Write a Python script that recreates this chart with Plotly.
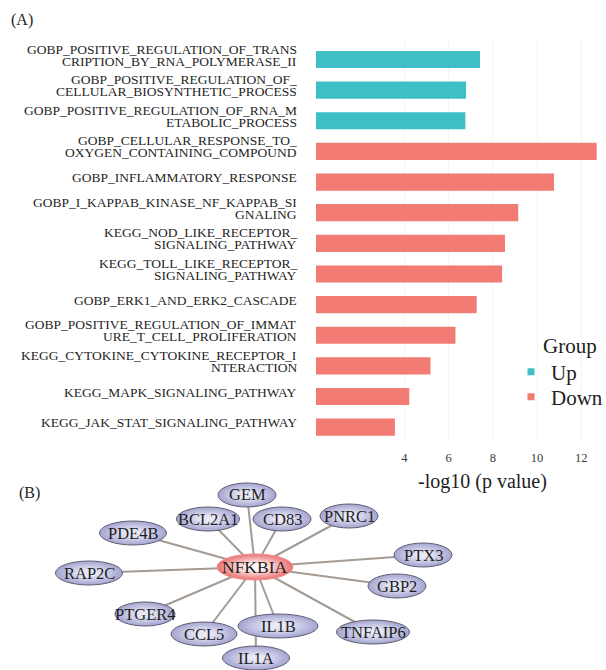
import plotly.graph_objects as go

# ---------------- data: panel A ----------------
categories = [
    "GOBP_POSITIVE_REGULATION_OF_TRANS<br>CRIPTION_BY_RNA_POLYMERASE_II",
    "GOBP_POSITIVE_REGULATION_OF_<br>CELLULAR_BIOSYNTHETIC_PROCESS",
    "GOBP_POSITIVE_REGULATION_OF_RNA_M<br>ETABOLIC_PROCESS",
    "GOBP_CELLULAR_RESPONSE_TO_<br>OXYGEN_CONTAINING_COMPOUND",
    "GOBP_INFLAMMATORY_RESPONSE",
    "GOBP_I_KAPPAB_KINASE_NF_KAPPAB_SI<br>GNALING",
    "KEGG_NOD_LIKE_RECEPTOR_<br>SIGNALING_PATHWAY",
    "KEGG_TOLL_LIKE_RECEPTOR_<br>SIGNALING_PATHWAY",
    "GOBP_ERK1_AND_ERK2_CASCADE",
    "GOBP_POSITIVE_REGULATION_OF_IMMAT<br>URE_T_CELL_PROLIFERATION",
    "KEGG_CYTOKINE_CYTOKINE_RECEPTOR_I<br>NTERACTION",
    "KEGG_MAPK_SIGNALING_PATHWAY",
    "KEGG_JAK_STAT_SIGNALING_PATHWAY",
]
groups = ["Up", "Up", "Up", "Down", "Down", "Down", "Down",
          "Down", "Down", "Down", "Down", "Down", "Down"]
neg_log10_p = [7.42, 6.79, 6.76, 12.70, 10.77, 9.15, 8.55,
               8.42, 7.27, 6.31, 5.18, 4.22, 3.57]
x_ticks = [4, 6, 8, 10, 12]
group_order = ["Up", "Down"]

# ---------------- data: panel B ----------------
hub = "NFKBIA"
genes = ["GEM", "BCL2A1", "CD83", "PNRC1", "PDE4B", "PTX3", "RAP2C",
         "GBP2", "PTGER4", "CCL5", "IL1B", "TNFAIP6", "IL1A"]
gene_x = [-8, -47, 27, 94, -122, 168, -166, 142, -110, -51, 23, 118, 1]
gene_y = [72, 48, 48, 51, 34, 12, -6, -19, -47, -67, -59, -65, -91]

# ---------------- styles ----------------
SERIF = "Liberation Serif, Times New Roman, serif"
group_colors = {"Up": "#3ebfc6", "Down": "#f27b73"}
legend_ids = {"Up": "legend", "Down": "legend2"}
W, H = 606, 670
node_w = {"GEM": 58, "BCL2A1": 63, "CD83": 58, "PNRC1": 58, "PDE4B": 67,
          "PTX3": 58, "RAP2C": 67, "GBP2": 58, "PTGER4": 60, "CCL5": 66,
          "IL1B": 80, "TNFAIP6": 73, "IL1A": 67}
node_h = 24
hub_w, hub_h = 76, 26

fig = go.Figure()

for g in group_order:
    ys = [c for c, gg in zip(categories, groups) if gg == g]
    xs = [v for v, gg in zip(neg_log10_p, groups) if gg == g]
    fig.add_trace(go.Bar(
        x=xs, y=ys, orientation="h", name=g, width=0.56,
        marker=dict(color=group_colors[g], line=dict(width=0)),
        xaxis="x", yaxis="y", hoverinfo="x+y", showlegend=False,
    ))
    # legend entry (small square swatch)
    fig.add_trace(go.Scatter(
        x=[None], y=[None], mode="markers", name=g,
        marker=dict(symbol="square", size=7, color=group_colors[g]),
        xaxis="x", yaxis="y", showlegend=True, legend=legend_ids[g],
    ))

# edges of the network
ex, ey = [], []
for gx, gy in zip(gene_x, gene_y):
    ex += [0, gx, None]
    ey += [0, gy, None]
fig.add_trace(go.Scatter(
    x=ex, y=ey, mode="lines", xaxis="x2", yaxis="y2",
    line=dict(color="#a39b94", width=2), showlegend=False, hoverinfo="skip",
))


def lerp(c1, c2, t):
    a = [int(c1[i:i + 2], 16) for i in (1, 3, 5)]
    b = [int(c2[i:i + 2], 16) for i in (1, 3, 5)]
    return "#%02x%02x%02x" % tuple(round(a[k] + (b[k] - a[k]) * t) for k in range(3))


shapes = []
annotations = []


def ellipse(cx, cy, w, h, outer, inner, border, bw):
    n = 8
    for k in range(n):
        t = k / (n - 1)
        s = 1 - 0.72 * t
        shapes.append(dict(
            type="circle", xref="x2", yref="y2",
            x0=cx - w * s / 2, x1=cx + w * s / 2,
            y0=cy - h * s / 2, y1=cy + h * s / 2,
            fillcolor=lerp(outer, inner, t),
            line=dict(color=border if k == 0 else "rgba(0,0,0,0)",
                      width=bw if k == 0 else 0),
            layer="above",
        ))


for gname, gx, gy in zip(genes, gene_x, gene_y):
    ellipse(gx, gy, node_w[gname], node_h, "#a9a9d4", "#e8e8f6", "#5e5e70", 1)
    annotations.append(dict(
        x=gx, y=gy, xref="x2", yref="y2", text=gname, showarrow=False,
        xanchor="center", yanchor="middle",
        font=dict(family=SERIF, size=16.5, color="#1e1e1e"),
    ))
ellipse(0, 0, hub_w, hub_h, "#ec7b7b", "#fff6f6", "#ee8f8f", 1)
annotations.append(dict(
    x=0, y=0, xref="x2", yref="y2", text=hub, showarrow=False,
    xanchor="center", yanchor="middle",
    font=dict(family=SERIF, size=17.5, color="#1e1e1e"),
))

# category labels (two tight lines each)
label_right = 299 / W
for c in categories:
    parts = c.split("<br>")
    shifts = [4.5] if len(parts) == 1 else [10.5, -1.5]
    for p, sh in zip(parts, shifts):
        annotations.append(dict(
            x=label_right, y=c, xref="paper", yref="y", text=p,
            showarrow=False, xanchor="right", yanchor="middle", yshift=sh,
            font=dict(family=SERIF, size=13.5, color="#1f1f1f"),
        ))

annotations += [
    dict(x=482 / W, y=1 - 481 / H, xref="paper", yref="paper",
         text="-log10 (p value)", showarrow=False,
         xanchor="center", yanchor="middle",
         font=dict(family=SERIF, size=20, color="#1e1e1e")),
    dict(x=9 / W, y=1 - 20 / H, xref="paper", yref="paper", text="(A)",
         showarrow=False, xanchor="left", yanchor="middle",
         font=dict(family=SERIF, size=16, color="#1e1e1e")),
    dict(x=17 / W, y=1 - 493 / H, xref="paper", yref="paper", text="(B)",
         showarrow=False, xanchor="left", yanchor="middle",
         font=dict(family=SERIF, size=16, color="#1e1e1e")),
    dict(x=541 / W, y=1 - 346 / H, xref="paper", yref="paper", text="Group",
         showarrow=False, xanchor="left", yanchor="middle",
         font=dict(family=SERIF, size=21, color="#1e1e1e")),
]

legend_style = dict(
    xanchor="left", yanchor="middle",
    font=dict(family=SERIF, size=21, color="#1e1e1e"),
    bgcolor="rgba(0,0,0,0)", itemwidth=30, borderwidth=0,
)

fig.update_layout(
    width=W, height=H,
    margin=dict(l=0, r=0, t=0, b=0, autoexpand=False),
    paper_bgcolor="white", plot_bgcolor="white",
    barmode="overlay",
    font=dict(family=SERIF, color="#333333"),
    xaxis=dict(domain=[316 / W, 600 / W], range=[0, 12.85],
               tickvals=x_ticks, ticktext=[str(t) for t in x_ticks],
               showgrid=True, gridcolor="#f4f4f4", zeroline=False,
               showline=False, ticks="", ticklabelstandoff=6,
               tickfont=dict(family=SERIF, size=12.5, color="#3a3a3a"),
               fixedrange=True),
    yaxis=dict(domain=[1 - 442.5 / H, 1 - 39.5 / H],
               type="category", categoryorder="array",
               categoryarray=categories[::-1],
               showticklabels=False, showgrid=False, zeroline=False,
               showline=False, ticks="", fixedrange=True),
    xaxis2=dict(domain=[0, 1], range=[-255, 351], visible=False,
                anchor="y2", fixedrange=True),
    yaxis2=dict(domain=[0, 201 / H], range=[-103, 98], visible=False,
                anchor="x2", fixedrange=True),
    legend=dict(x=511 / W, y=1 - 372 / H, **legend_style),
    legend2=dict(x=511 / W, y=1 - 397 / H, **legend_style),
    shapes=shapes,
    annotations=annotations,
    showlegend=True,
)

fig.write_html(
    "out.html",
    config={"displayModeBar": False},
    post_script="document.body.style.margin='0';document.body.style.padding='0';",
)
